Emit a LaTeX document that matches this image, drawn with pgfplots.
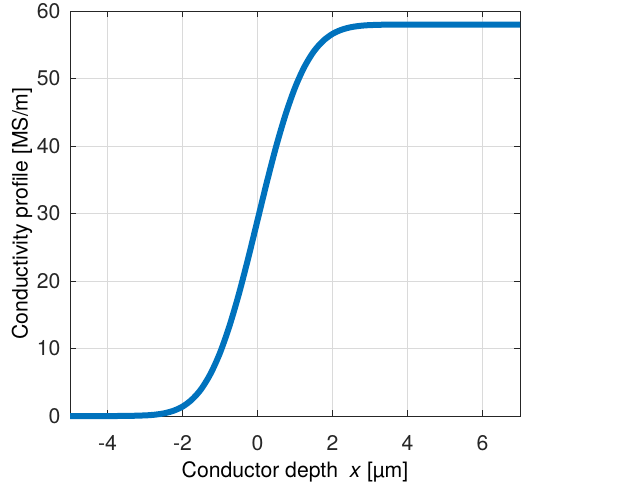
\documentclass[border=0pt]{standalone}
\usepackage{pgfplots}
\pgfplotsset{compat=1.18}
\usepackage{fontspec}
\setmainfont{TeX Gyre Heros}
\definecolor{mblue}{RGB}{0,114,189}
\definecolor{axgray}{RGB}{38,38,38}
\definecolor{gridgray}{RGB}{218,218,218}
\begin{document}
\fontsize{10.6}{12.7}\selectfont
\begin{tikzpicture}
\begin{axis}[
  name=ax,
  at={(0,0)}, anchor=south west,
  scale only axis,
  width=225pt, height=202.5pt,
  xmin=-5, xmax=7, ymin=0, ymax=60,
  xtick={-4,-2,0,2,4,6},
  ytick={0,10,20,30,40,50,60},
  tick pos=both, tick align=inside,
  major tick length=3pt,
  grid=major,
  major grid style={gridgray, line width=0.5pt},
  axis line style={axgray, line width=0.5pt},
  every tick/.style={axgray, line width=0.5pt},
  tick label style={text=axgray, font=\fontsize{10.6}{12.7}\selectfont},
  /pgf/number format/assume math mode=true,
  xticklabel style={yshift=-6pt},
  yticklabel style={xshift=-1pt},
  label style={text=axgray, font=\fontsize{10.6}{12.7}\selectfont},
  xlabel={Conductor depth \ \textit{x} [µm]},
  ylabel={Conductivity profile [MS/m]},
  every axis x label/.style={at={(axis description cs:0.5,-0.138)}, anchor=center},
  every axis y label/.style={at={(axis description cs:-0.1067,0.5)}, rotate=90, anchor=center},
  clip=false,
]
\addplot[mblue, line width=3pt, smooth] coordinates {
(-5,0) (-4.5,0) (-4,0.001) (-3.5,0.01) (-3,0.09) (-2.75,0.19) (-2.5,0.39) (-2.25,0.76)
(-2,1.39) (-1.75,2.43) (-1.5,4.0) (-1.25,6.28) (-1,9.36) (-0.75,13.30) (-0.5,18.01)
(-0.25,23.34) (0,29) (0.25,34.66) (0.5,39.99) (0.75,44.70) (1,48.64) (1.25,51.72)
(1.5,54.0) (1.75,55.57) (2,56.61) (2.25,57.24) (2.5,57.61) (2.75,57.81) (3,57.91)
(3.5,57.99) (4,58) (5,58) (6,58) (7,58)
};
\end{axis}
\pgfresetboundingbox
\path (-35pt,-36.5pt) rectangle (274.5pt,208pt);
\end{tikzpicture}
\end{document}
